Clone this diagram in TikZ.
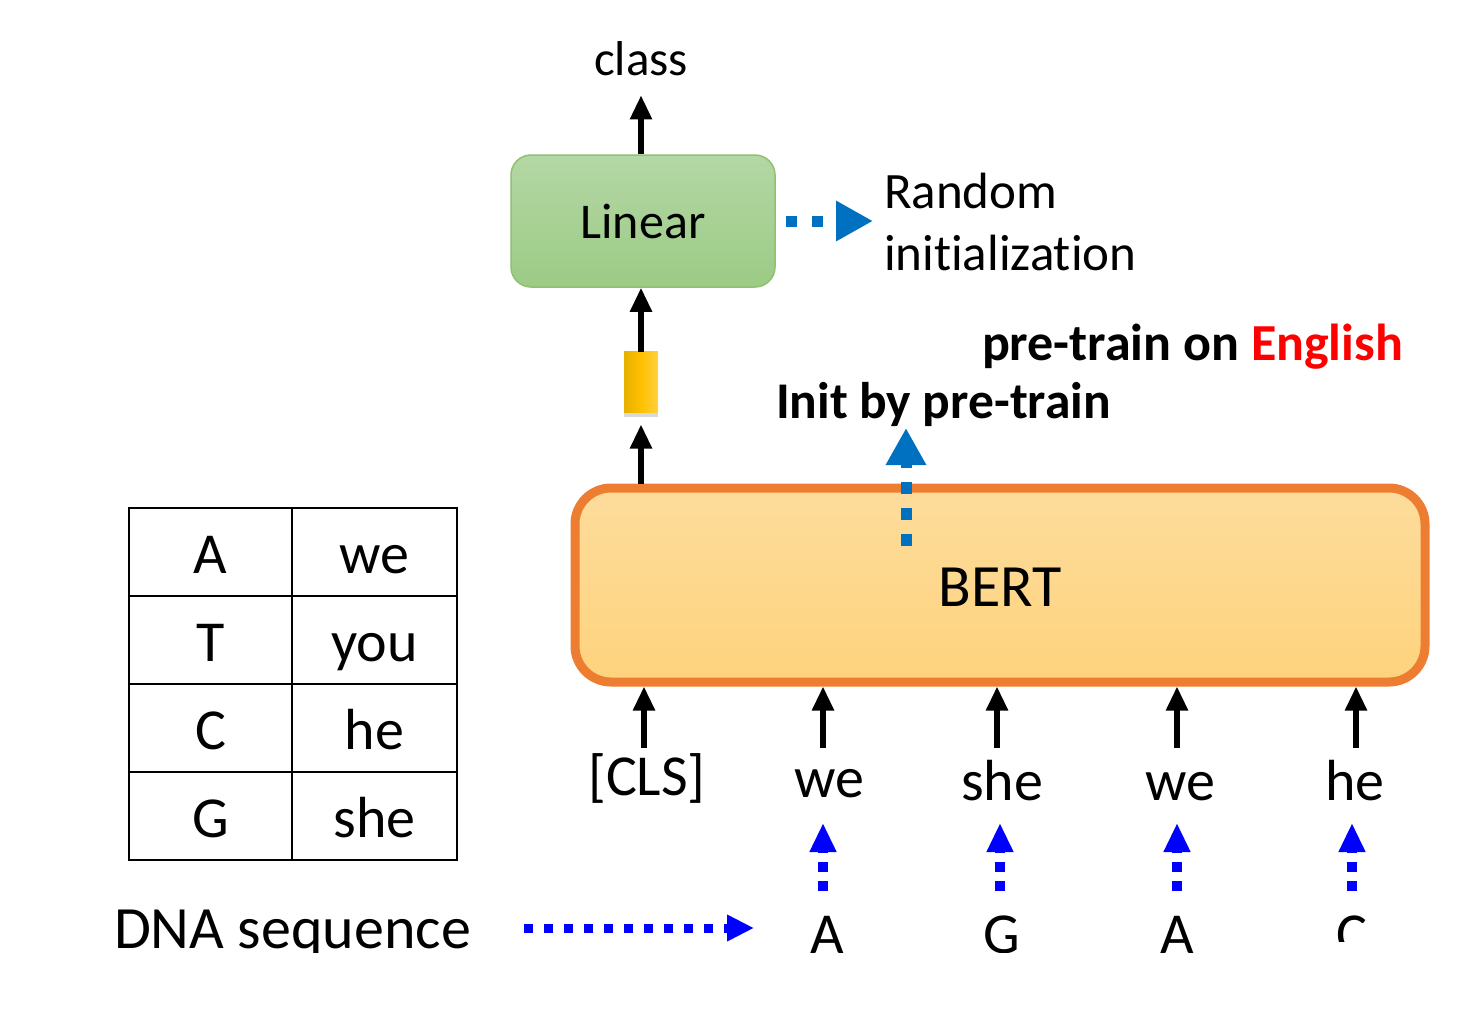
\documentclass[tikz,border=0pt]{standalone}
\usepackage{fontspec}
\setmainfont{Carlito}[Ligatures=NoCommon]
\usetikzlibrary{arrows.meta}
\definecolor{bertedge}{HTML}{ED7D31}
\definecolor{berttop}{HTML}{FDDC9C}
\definecolor{bertbot}{HTML}{FED37D}
\definecolor{lintop}{HTML}{B4D7A5}
\definecolor{linbot}{HTML}{9CCB85}
\definecolor{linedge}{HTML}{8DC270}
\definecolor{initblue}{HTML}{0070C0}
\definecolor{pureblue}{HTML}{0000FF}
\definecolor{engred}{HTML}{FF0000}
\definecolor{vecl}{HTML}{E6B000}
\definecolor{vecm}{HTML}{FFC000}
\definecolor{vecr}{HTML}{FFD040}
\tikzset{
  lbl/.style={inner sep=0pt, outer sep=0pt},
  blk/.style={line width=5.5pt, -{Triangle[length=24pt,width=21pt]}},
  initarrow/.style={color=initblue, line width=11pt, dash pattern=on 11pt off 15pt, -{Triangle[length=37pt,width=38pt]}},
  tokarrow/.style={color=pureblue, line width=10pt, dash pattern=on 10pt off 9pt, -{Triangle[length=29pt,width=25pt]}},
  dnaarrow/.style={color=pureblue, line width=9pt, dash pattern=on 9pt off 11pt, -{Triangle[length=27pt,width=25pt]}},
  cell/.style={draw=black, line width=2pt, inner sep=0pt, outer sep=0pt, minimum height=88pt, text height=43pt, text depth=0pt, font=\fontsize{58}{66}\selectfont},
  bigtxt/.style={lbl, font=\fontsize{58}{66}\selectfont},
}
\begin{document}
\begin{tikzpicture}[x=1pt,y=-1pt]
\useasboundingbox (0,0) rectangle (1458,1018);
\fill[white] (0,0) rectangle (1458,1018);

% Linear box
\node[draw=linedge, line width=1.5pt, rounded corners=20pt, top color=lintop, bottom color=linbot,
      minimum width=264pt, minimum height=132pt, inner sep=0pt, font=\fontsize{50}{60}\selectfont] (lin) at (643,221) {Linear};
\node[lbl, anchor=base, font=\fontsize{49}{58}\selectfont] (cls) at (641,75) {class};
\draw[blk] (lin.north -| cls) -- ([yshift=-20pt]cls.south);

% Random initialization
\node[lbl, anchor=west, align=left, font=\fontsize{51}{62}\selectfont] (rand) at (884,222) {Random\\initialization};
\draw[initarrow] ([xshift=10pt]lin.east) -- ([xshift=-11pt]rand.west |- lin.east);

% yellow vector
\fill[black, opacity=0.15] (624,356) rectangle (658,417);
\node[lbl, minimum width=34pt, minimum height=61pt, left color=vecl, right color=vecr, middle color=vecm] (vec) at (641,382) {};
\draw[blk] (vec.north) -- (vec.north |- lin.south);

% BERT
\node[draw=bertedge, line width=9pt, rounded corners=36pt, top color=berttop, bottom color=bertbot,
      minimum width=850pt, minimum height=194pt, inner sep=0pt, outer sep=4.5pt] (bert) at (1000,585) {};
\node[bigtxt, font=\fontsize{60}{70}\selectfont] (berttxt) at (1000,587) {BERT};
\draw[blk] (bert.north -| vec) -- ([yshift=-12pt]vec.south);

% pre-train labels
\node[lbl, anchor=base west, font=\fontsize{52}{60}\selectfont\bfseries] (pre) at (982,360) {pre-train on \textcolor{engred}{English}};
\node[lbl, anchor=base west, font=\fontsize{51.5}{60}\selectfont\bfseries] (init) at (776,418) {Init by pre-train};
\coordinate (initS) at (906,546);
\coordinate (initE) at (906,428);
\draw[initarrow, dash pattern=on 12pt off 14pt] (initS) -- (initE);

% tokens
\node[bigtxt, anchor=base] (t0) at (647,795) {[CLS]};
\node[bigtxt, anchor=base] (t1) at (829,797) {we};
\node[bigtxt, anchor=base] (t2) at (1002,800) {she};
\node[bigtxt, anchor=base] (t3) at (1180,800) {we};
\node[bigtxt, anchor=base] (t4) at (1355,800) {he};
\foreach \i/\x in {0/644,1/823,2/997,3/1177,4/1356}{
  \coordinate (a\i) at (\x,748);
  \draw[blk] (a\i) -- (a\i |- bert.south);
}

% table
\node[cell, minimum width=163pt] (c11) at (210.5,551.5) {A};
\node[cell, minimum width=165pt] (c12) at (374.5,551.5) {we};
\node[cell, minimum width=163pt] (c21) at (210.5,640) {T};
\node[cell, minimum width=165pt] (c22) at (374.5,640) {you};
\node[cell, minimum width=163pt] (c31) at (210.5,728) {C};
\node[cell, minimum width=165pt] (c32) at (374.5,728) {he};
\node[cell, minimum width=163pt] (c41) at (210.5,816) {G};
\node[cell, minimum width=165pt] (c42) at (374.5,816) {she};

% bottom row (clipped as in the reference)
\begin{scope}
\clip (0,0) rectangle (1458,952);
\node[bigtxt, anchor=base west, font=\fontsize{60}{68}\selectfont] (dna) at (114,948) {DNA sequence};
\node[bigtxt, anchor=base] (d1) at (827,953) {A};
\node[bigtxt, anchor=base] (d2) at (1002,953) {G};
\node[bigtxt, anchor=base] (d3) at (1177,953) {A};
\end{scope}
\begin{scope}
\clip (0,0) rectangle (1458,941);
\node[bigtxt, anchor=base] (d4) at (1352,953) {C};
\end{scope}
\coordinate (dnaS) at (524,928);
\coordinate (dnaE) at (754,928);
\draw[dnaarrow] (dnaS) -- (dnaE);
\foreach \i/\x in {1/823,2/1000,3/1177,4/1352}{
  \coordinate (b\i) at (\x,891);
  \coordinate (e\i) at (\x,823);
  \draw[tokarrow] (b\i) -- (e\i);
}
\end{tikzpicture}
\end{document}
